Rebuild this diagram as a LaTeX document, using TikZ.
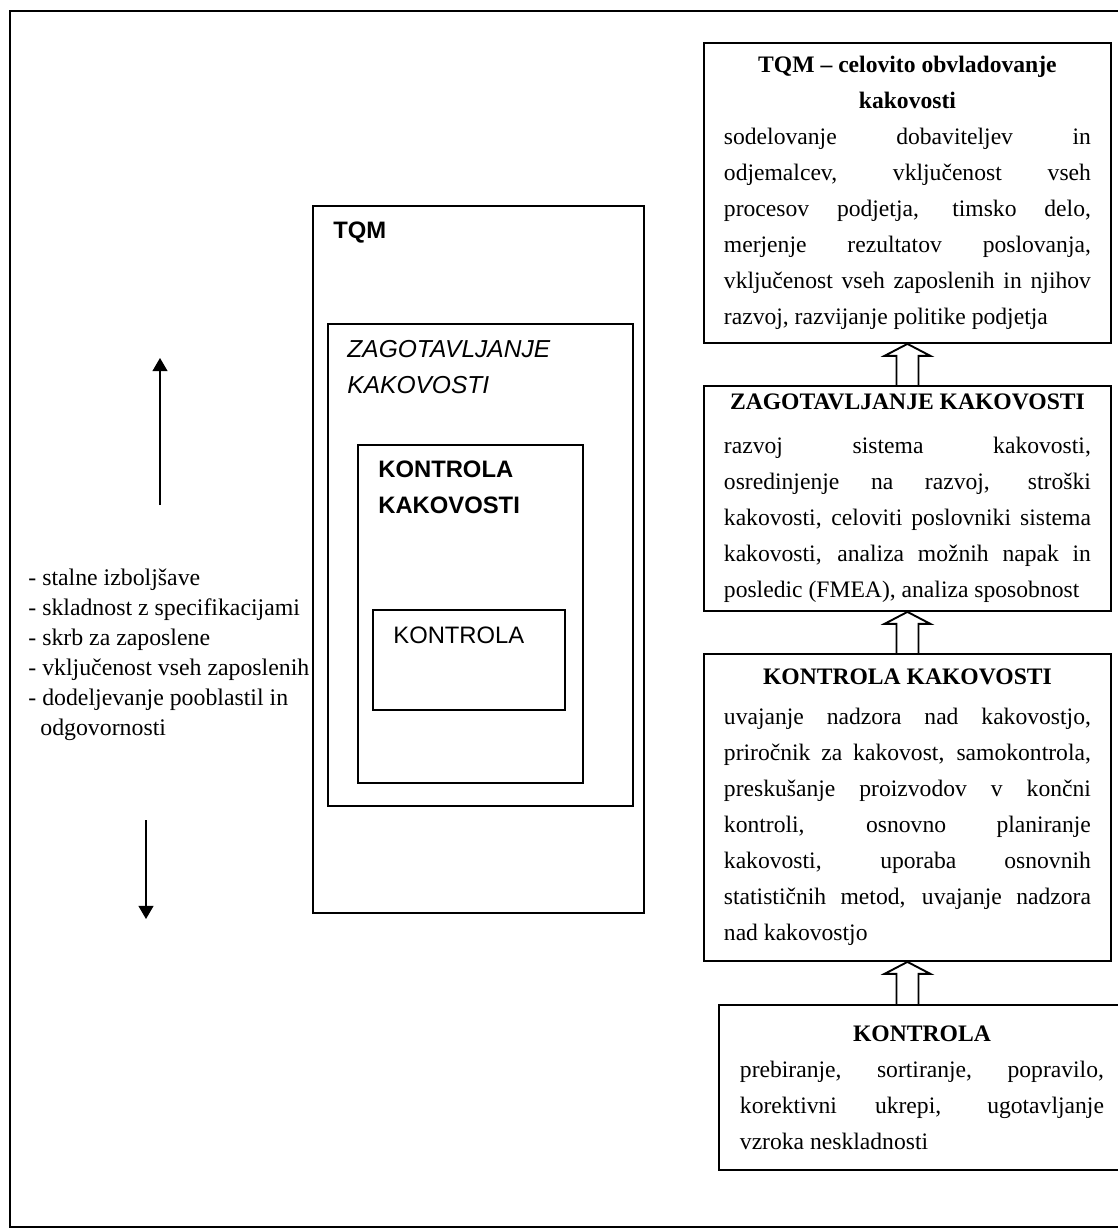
\documentclass[tikz,border=0pt]{standalone}
\usepackage{fontspec}
\setmainfont{Liberation Serif}
\setsansfont{Liberation Sans}
\usetikzlibrary{calc, positioning, arrows.meta}
\newlength{\pxu}
\setlength{\pxu}{0.5294pt}
\newcommand{\blockup}[2]{%
  \draw[blockarr] ([xshift=-11\pxu]#2.south |- #1.north)
    -- ([xshift=-11\pxu,yshift=-12\pxu]#2.south)
    -- ([xshift=-23\pxu,yshift=-12\pxu]#2.south)
    -- (#2.south)
    -- ([xshift=23\pxu,yshift=-12\pxu]#2.south)
    -- ([xshift=11\pxu,yshift=-12\pxu]#2.south)
    -- ([xshift=11\pxu]#2.south |- #1.north);}
\tikzset{
  rbox/.style={draw, line width=1pt, anchor=north west, text width=367\pxu,
    inner xsep=20\pxu, inner ysep=0pt, align=justify,
    font=\fontsize{12.5pt}{19.06pt}\selectfont},
  frame/.style={draw, line width=0.9pt, anchor=north west, inner sep=0pt},
  flabel/.style={anchor=north west, inner sep=0pt, align=left,
    font=\sffamily\fontsize{12.6pt}{19.06pt}\selectfont},
  item/.style={anchor=base west, inner sep=0pt, font=\fontsize{12.6pt}{15.88pt}\selectfont},
  blockarr/.style={draw, line width=1pt, line join=miter},
  thinarr/.style={line width=0.6pt, -{Triangle[length=7pt, width=8pt]}}
}
\begin{document}
\begin{tikzpicture}[x=0.5294pt, y=-0.5294pt]
\useasboundingbox (0,0) rectangle (1118,1229);
\clip (0,0) rectangle (1118,1229);
% Outer frame
\draw[line width=1.3pt] (10,11) rectangle (1130,1227);
% Nested frames
\node[frame, minimum width=331\pxu, minimum height=707\pxu] (tqmfr) at (312,205) {};
\node[frame, minimum width=305\pxu, minimum height=482\pxu] (zagfr) at (327,323) {};
\node[frame, minimum width=225\pxu, minimum height=338\pxu] (kkfr) at (357,444) {};
\node[frame, minimum width=192\pxu, minimum height=100\pxu] (kfr) at (372,609) {};
\node[flabel, font=\sffamily\bfseries\fontsize{12.6pt}{19.06pt}\selectfont] (tqmlab) at (333,221) {TQM};
\node[flabel, font=\sffamily\itshape\fontsize{13pt}{19.06pt}\selectfont] (zaglab) at (347,340) {ZAGOTAVLJANJE\\KAKOVOSTI};
\node[flabel, font=\sffamily\bfseries\fontsize{12.6pt}{19.06pt}\selectfont] (kklab) at (378,460) {KONTROLA\\KAKOVOSTI};
\node[flabel] (klab) at (393,626) {KONTROLA};
% List on the left
\foreach \t [count=\i from 0] in {- stalne izboljšave, - skladnost z specifikacijami,
    - skrb za zaposlene, - vključenost vseh zaposlenih, - dodeljevanje pooblastil in}
  \node[item] (li\i) at (28,585+30*\i) {\t};
\node[item] (li5) at (40,735) {odgovornosti};
% Up and down arrows
\coordinate (uptail) at (160,505);
\coordinate (uptip) at (160,358);
\coordinate (dntail) at (146,820);
\coordinate (dntip) at (146,919);
\draw[thinarr] (uptail) -- (uptip);
\draw[thinarr] (dntail) -- (dntip);
% Stages on the right
\node[rbox, minimum height=300\pxu] (tqm) at (703,42) {%
  {\centering\bfseries TQM -- celovito obvladovanje\\kakovosti\par}
  sodelovanje dobaviteljev in\linebreak
  odjemalcev, vključenost vseh\linebreak
  procesov podjetja, timsko delo,\linebreak
  merjenje rezultatov poslovanja,\linebreak
  vključenost vseh zaposlenih in njihov\linebreak
  razvoj, razvijanje politike podjetja};
\node[rbox, minimum height=225\pxu] (zag) at (703,385) {%
  {\centering\bfseries ZAGOTAVLJANJE KAKOVOSTI\par}\vspace{8\pxu}
  razvoj sistema kakovosti,\linebreak
  osredinjenje na razvoj, stroški\linebreak
  kakovosti, celoviti poslovniki sistema\linebreak
  kakovosti, analiza možnih napak in\linebreak
  posledic (FMEA), analiza sposobnost};
\node[rbox, minimum height=307\pxu] (kk) at (703,653) {%
  {\centering\bfseries KONTROLA KAKOVOSTI\par}\vspace{4\pxu}
  uvajanje nadzora nad kakovostjo,\linebreak
  priročnik za kakovost, samokontrola,\linebreak
  preskušanje proizvodov v končni\linebreak
  kontroli, osnovno planiranje\linebreak
  kakovosti, uporaba osnovnih\linebreak
  statističnih metod, uvajanje nadzora\linebreak
  nad kakovostjo};
\node[rbox, minimum height=165\pxu, text width=364\pxu, inner xsep=21\pxu] (k) at (718,1004) {%
  {\centering\bfseries KONTROLA\par}
  prebiranje, sortiranje, popravilo,\linebreak
  korektivni ukrepi, ugotavljanje\linebreak
  vzroka neskladnosti};
% Block arrows between stages
\blockup{zag}{tqm}
\blockup{kk}{zag}
\blockup{k}{kk}
\end{tikzpicture}
\end{document}
